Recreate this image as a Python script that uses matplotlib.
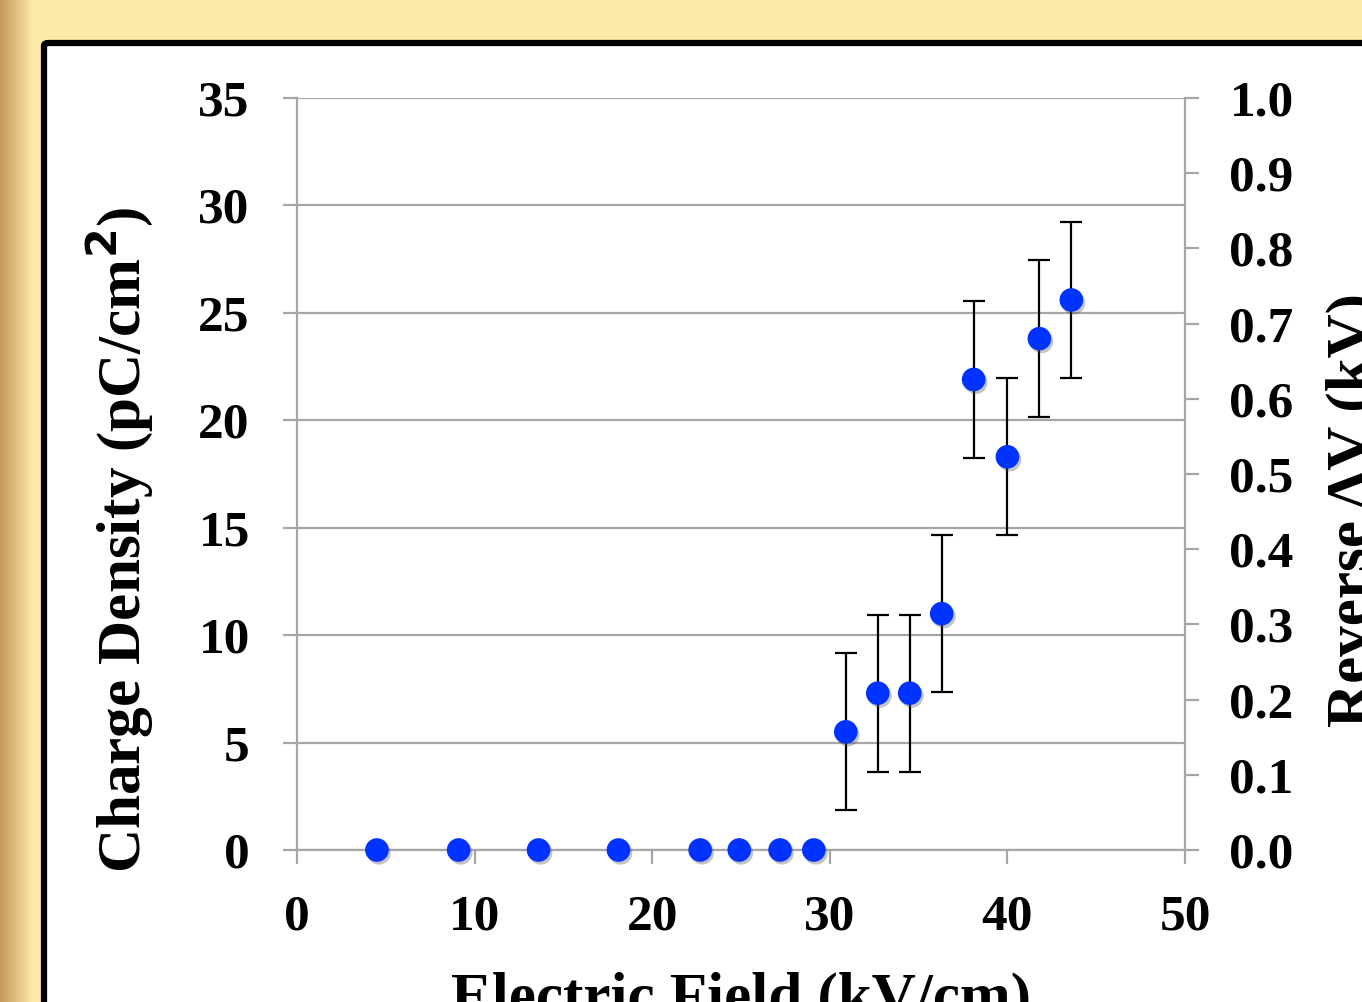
import numpy as np
import matplotlib
matplotlib.use("Agg")
import matplotlib.pyplot as plt
import matplotlib.patheffects as pe
from matplotlib.patches import FancyBboxPatch

# ================================ Data =====================================
field = [4.5, 9.1, 13.6, 18.1, 22.7, 24.9, 27.2, 29.1,
         30.9, 32.7, 34.5, 36.3, 38.1, 40.0, 41.8, 43.6]
charge = [0, 0, 0, 0, 0, 0, 0, 0,
          5.5, 7.3, 7.3, 11.0, 21.9, 18.3, 23.8, 25.6]
charge_err = [0, 0, 0, 0, 0, 0, 0, 0,
              3.65, 3.65, 3.65, 3.65, 3.65, 3.65, 3.65, 3.65]

x_ticks = [0, 10, 20, 30, 40, 50]
y_ticks = [0, 5, 10, 15, 20, 25, 30, 35]
dv_ticks = [0.0, 0.1, 0.2, 0.3, 0.4, 0.5, 0.6, 0.7, 0.8, 0.9, 1.0]

# ================================ Style =====================================
FONT = "Liberation Serif"
GRID = "#a6a6a6"
BLUE = "#0033ff"
YELLOW = "#fde9a8"
TICK_SIZE = 37
LABEL_SIZE = 44

plt.rcParams["font.family"] = [FONT, "DejaVu Serif"]
plt.rcParams["font.weight"] = "bold"

W, H = 1362, 1002
fig = plt.figure(figsize=(W / 100, H / 100), dpi=100, facecolor=YELLOW)

# slide background: gold shading on the left edge
bg = fig.add_axes([0, 0, 1, 1], zorder=-10)
bg.set_axis_off()
base = np.array([0xfd, 0xe9, 0xa8]) / 255
edge = np.array([0xc4, 0x98, 0x58]) / 255
ramp = np.clip(np.arange(W) / 32.0, 0, 1)[:, None]
shade = (edge * (1 - ramp) + base * ramp)[None, :, :]
bg.imshow(shade, aspect="auto", extent=[0, 1, 0, 1])
bg.set_xlim(0, 1)
bg.set_ylim(0, 1)

# white panel with black frame
panel = FancyBboxPatch((44 / W, -0.1), 1.2, 1 - 43 / H + 0.1,
                       boxstyle="round,pad=0,rounding_size=0.003",
                       transform=fig.transFigure, facecolor="white",
                       edgecolor="black", linewidth=4.5, zorder=-5)
fig.patches.append(panel)

# ================================ Axes =====================================
ax = fig.add_axes([297 / W, 1 - 850 / H, (1185 - 297) / W, (850 - 98) / H])
ax.set_facecolor("none")
ax.set_xlim(0, 50)
ax.set_ylim(0, 35)
ax.set_xticks(x_ticks)
ax.set_yticks(y_ticks)
ax.grid(axis="y", color=GRID, linewidth=1.6)
ax.set_axisbelow(True)

for side in ["left", "right", "bottom"]:
    ax.spines[side].set_color(GRID)
    ax.spines[side].set_linewidth(1.6)
ax.spines["top"].set_visible(False)
ax.tick_params(axis="both", colors=GRID, length=10, width=1.6,
               labelcolor="black", labelsize=TICK_SIZE)
ax.tick_params(axis="x", pad=22)
ax.tick_params(axis="y", pad=24)

ax2 = ax.twinx()
ax2.set_ylim(0, 1)
ax2.set_yticks(dv_ticks)
ax2.set_yticklabels(["%.1f" % v for v in dv_ticks])
for side in ["left", "right", "bottom", "top"]:
    ax2.spines[side].set_visible(False)
ax2.tick_params(axis="y", colors=GRID, length=10, width=1.6,
                labelcolor="black", labelsize=TICK_SIZE, pad=22)

shadow = [pe.SimplePatchShadow(offset=(1.5, -2), shadow_rgbFace="#555555", alpha=0.35),
          pe.Normal()]
ax.errorbar(field, charge, yerr=charge_err, fmt="none", ecolor="black",
            elinewidth=1.6, capsize=8, capthick=1.6, zorder=3, clip_on=False)
ax.plot(field, charge, "o", color=BLUE, markersize=17, markeredgewidth=0,
        zorder=4, clip_on=False, path_effects=shadow)

fig.text(120 / W, 1 - 540 / H, "Charge Density (pC/cm$^\\mathbf{2}$)",
         rotation=90, ha="center", va="center", fontsize=LABEL_SIZE)
fig.text(1354 / W, 1 - 510 / H, "Reverse \u0394V (kV)",
         rotation=90, ha="center", va="center", fontsize=LABEL_SIZE)
fig.text(741 / W, 1 - 1000 / H, "Electric Field (kV/cm)",
         ha="center", va="center", fontsize=LABEL_SIZE)

plt.savefig("out.png", dpi=100, facecolor=YELLOW)
